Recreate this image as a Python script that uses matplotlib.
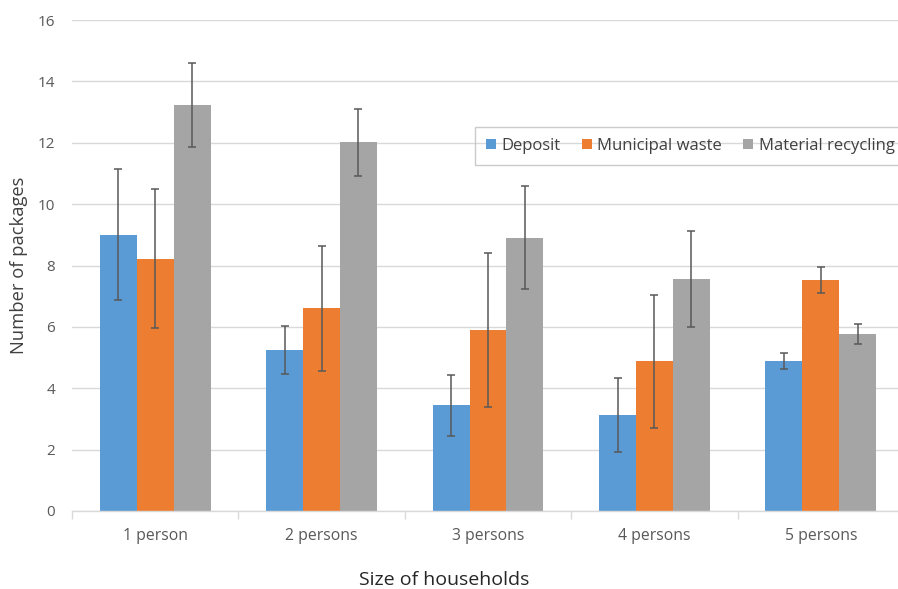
import matplotlib
matplotlib.use("Agg")
import matplotlib.pyplot as plt
import numpy as np

categories = ["1 person", "2 persons", "3 persons", "4 persons", "5 persons"]
series_names = ["Deposit", "Municipal waste", "Material recycling"]
deposit = [9.0, 5.25, 3.44, 3.12, 4.88]
deposit_err = [2.14, 0.77, 1.0, 1.21, 0.26]
municipal = [8.22, 6.60, 5.90, 4.88, 7.53]
municipal_err = [2.27, 2.05, 2.5, 2.16, 0.42]
material = [13.24, 12.02, 8.91, 7.57, 5.76]
material_err = [1.37, 1.09, 1.67, 1.57, 0.33]
yticks = [0, 2, 4, 6, 8, 10, 12, 14, 16]

colors = ["#5B9BD5", "#ED7D31", "#A5A5A5"]
plt.rcParams['font.family'] = ['Open Sans', 'DejaVu Sans']

W, H = 898, 589
fig = plt.figure(figsize=(W / 100, H / 100), dpi=100)
ax = fig.add_axes([72 / W, (H - 511) / H, (904 - 72) / W, (511 - 20) / H])

x = np.arange(len(categories))
bw = 0.2216
vals = [deposit, municipal, material]
errs = [deposit_err, municipal_err, material_err]
for i, (v, e) in enumerate(zip(vals, errs)):
    ax.bar(x + (i - 1) * bw, v, bw, color=colors[i], label=series_names[i],
           yerr=e, error_kw=dict(ecolor="#595959", elinewidth=1.1, capsize=3, capthick=1.1),
           zorder=3)

ax.set_xlim(-0.5, len(categories) - 0.5)
ax.set_ylim(0, 16)
ax.set_yticks(yticks)
ax.set_yticklabels([str(t) for t in yticks])
ax.set_xticks(x)
ax.set_xticklabels(categories)
ax.set_xticks(np.arange(len(categories) + 1) - 0.5, minor=True)
ax.tick_params(axis='x', which='major', length=0, pad=12.5, labelsize=11.3, labelcolor="#595959")
ax.tick_params(axis='x', which='minor', length=6, color="#D9D9D9", width=1)
ax.tick_params(axis='y', length=0, pad=12, labelsize=11, labelcolor="#595959")
ax.grid(axis='y', color="#D9D9D9", linewidth=1, zorder=0)
for s in ['left', 'right', 'top']:
    ax.spines[s].set_visible(False)
ax.spines['bottom'].set_color("#D9D9D9")
ax.spines['bottom'].set_linewidth(1)
ax.spines['bottom'].set_zorder(4)

fig.text(19 / W, (H - 265) / H, "Number of packages", rotation=90, ha='center', va='center',
         fontsize=13.2, color="#404040")
fig.text(444 / W, (H - 580) / H, "Size of households", ha='center', va='center',
         fontsize=14, color="#262626")

leg = ax.legend(loc='upper left', bbox_to_anchor=(475 / W, (H - 127) / H),
                bbox_transform=fig.transFigure, ncol=3, frameon=True,
                fontsize=12, handlelength=0.6, handleheight=0.6, handletextpad=0.35,
                columnspacing=1.25, borderpad=0.65, borderaxespad=0, fancybox=False)
leg.get_frame().set_facecolor('none')
leg.get_frame().set_edgecolor("#BFBFBF")
leg.get_frame().set_linewidth(1)
for t in leg.get_texts():
    t.set_color("#404040")

fig.savefig("out.png", dpi=100)
